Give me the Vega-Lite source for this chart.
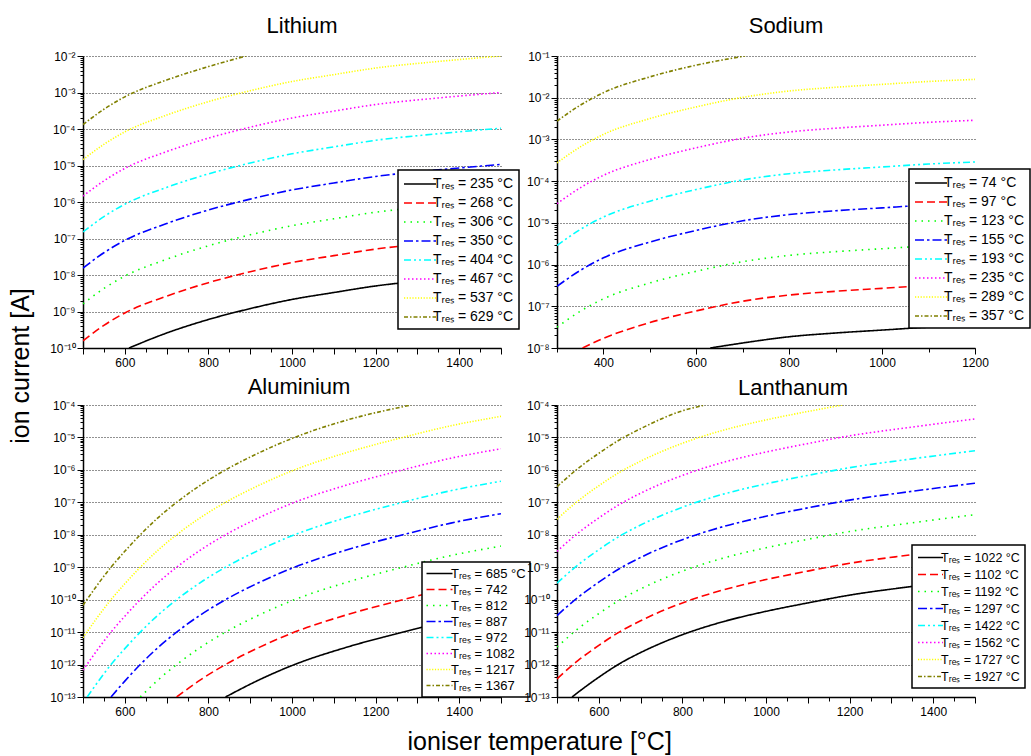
{
  "$schema": "https://vega.github.io/schema/vega-lite/v6.json",
  "background": "white",
  "padding": {"left": 8, "top": 15, "right": 0, "bottom": 0},
  "config": {
    "font": "Liberation Sans",
    "view": {"stroke": null},
    "axis": {
      "domainColor": "black", "domainWidth": 1.5, "tickColor": "black", "tickWidth": 1,
      "labelColor": "black", "labelFont": "Liberation Sans", "labelFontSize": 12,
      "gridColor": "#222222", "gridDash": [1, 2], "gridWidth": 1,
      "labelFlush": false, "labelOverlap": false
    },
    "axisX": {"grid": false, "labelPadding": 3},
    "axisY": {"grid": true, "labelPadding": 2},
    "title": {"font": "Liberation Sans", "fontWeight": "normal", "color": "black"},
    "legend": {
      "strokeColor": "black", "strokeWidth": 1.5, "fillColor": "white", "cornerRadius": 0,
      "labelFont": "Liberation Sans", "labelColor": "black", "labelLimit": 250,
      "symbolType": "M-2,0H2", "symbolStrokeWidth": 1.6
    }
  },
  "title": {"text": "ioniser temperature [°C]", "orient": "bottom", "anchor": "middle", "fontSize": 25, "offset": 13, "dx": 20},
  "vconcat": [
    {
      "title": {"text": "ion current [A]", "orient": "left", "anchor": "middle", "fontSize": 25, "offset": 16},
      "columns": 2,
      "spacing": {"row": 57, "column": 56},
      "bounds": "flush",
      "resolve": {
        "scale": {"x": "independent", "y": "independent", "color": "independent", "strokeDash": "independent"},
        "legend": {"color": "independent", "strokeDash": "independent"}
      },
      "concat": [
        {
          "title": {"text": "Lithium", "fontSize": 22, "frame": "group", "offset": 12, "dx": 10},
          "width": 418, "height": 292,
          "data": {"values": [
            {"Tres": "235", "T": 610, "I": 1e-10}, {"Tres": "235", "T": 700, "I": 2.57e-10}, {"Tres": "235", "T": 800, "I": 6.03e-10}, {"Tres": "235", "T": 900, "I": 1.2e-9}, {"Tres": "235", "T": 1000, "I": 2.14e-9}, {"Tres": "235", "T": 1100, "I": 3.31e-9}, {"Tres": "235", "T": 1200, "I": 5.01e-9}, {"Tres": "235", "T": 1350, "I": 7.59e-9}, {"Tres": "235", "T": 1500, "I": 1.07e-8},
            {"Tres": "268", "T": 500, "I": 1.58e-10}, {"Tres": "268", "T": 550, "I": 4.17e-10}, {"Tres": "268", "T": 600, "I": 9.12e-10}, {"Tres": "268", "T": 700, "I": 2.63e-9}, {"Tres": "268", "T": 800, "I": 6.17e-9}, {"Tres": "268", "T": 900, "I": 1.23e-8}, {"Tres": "268", "T": 1000, "I": 2.19e-8}, {"Tres": "268", "T": 1100, "I": 3.39e-8}, {"Tres": "268", "T": 1200, "I": 5.13e-8}, {"Tres": "268", "T": 1350, "I": 7.76e-8}, {"Tres": "268", "T": 1500, "I": 1.1e-7},
            {"Tres": "306", "T": 500, "I": 1.62e-9}, {"Tres": "306", "T": 550, "I": 4.27e-9}, {"Tres": "306", "T": 600, "I": 9.33e-9}, {"Tres": "306", "T": 700, "I": 2.69e-8}, {"Tres": "306", "T": 800, "I": 6.31e-8}, {"Tres": "306", "T": 900, "I": 1.26e-7}, {"Tres": "306", "T": 1000, "I": 2.24e-7}, {"Tres": "306", "T": 1100, "I": 3.47e-7}, {"Tres": "306", "T": 1200, "I": 5.25e-7}, {"Tres": "306", "T": 1350, "I": 7.94e-7}, {"Tres": "306", "T": 1500, "I": 1.12e-6},
            {"Tres": "350", "T": 500, "I": 1.55e-8}, {"Tres": "350", "T": 550, "I": 4.07e-8}, {"Tres": "350", "T": 600, "I": 8.91e-8}, {"Tres": "350", "T": 700, "I": 2.57e-7}, {"Tres": "350", "T": 800, "I": 6.03e-7}, {"Tres": "350", "T": 900, "I": 1.2e-6}, {"Tres": "350", "T": 1000, "I": 2.14e-6}, {"Tres": "350", "T": 1100, "I": 3.31e-6}, {"Tres": "350", "T": 1200, "I": 5.01e-6}, {"Tres": "350", "T": 1350, "I": 7.59e-6}, {"Tres": "350", "T": 1500, "I": 1.07e-5},
            {"Tres": "404", "T": 500, "I": 1.51e-7}, {"Tres": "404", "T": 550, "I": 3.98e-7}, {"Tres": "404", "T": 600, "I": 8.71e-7}, {"Tres": "404", "T": 700, "I": 2.51e-6}, {"Tres": "404", "T": 800, "I": 5.89e-6}, {"Tres": "404", "T": 900, "I": 1.17e-5}, {"Tres": "404", "T": 1000, "I": 2.09e-5}, {"Tres": "404", "T": 1100, "I": 3.24e-5}, {"Tres": "404", "T": 1200, "I": 4.9e-5}, {"Tres": "404", "T": 1350, "I": 7.41e-5}, {"Tres": "404", "T": 1500, "I": 1.05e-4},
            {"Tres": "467", "T": 500, "I": 1.45e-6}, {"Tres": "467", "T": 550, "I": 3.8e-6}, {"Tres": "467", "T": 600, "I": 8.32e-6}, {"Tres": "467", "T": 700, "I": 2.4e-5}, {"Tres": "467", "T": 800, "I": 5.62e-5}, {"Tres": "467", "T": 900, "I": 1.12e-4}, {"Tres": "467", "T": 1000, "I": 2e-4}, {"Tres": "467", "T": 1100, "I": 3.09e-4}, {"Tres": "467", "T": 1200, "I": 4.68e-4}, {"Tres": "467", "T": 1350, "I": 7.08e-4}, {"Tres": "467", "T": 1500, "I": 1e-3},
            {"Tres": "537", "T": 500, "I": 1.45e-5}, {"Tres": "537", "T": 550, "I": 3.8e-5}, {"Tres": "537", "T": 600, "I": 8.32e-5}, {"Tres": "537", "T": 700, "I": 2.4e-4}, {"Tres": "537", "T": 800, "I": 5.62e-4}, {"Tres": "537", "T": 900, "I": 1.12e-3}, {"Tres": "537", "T": 1000, "I": 2e-3}, {"Tres": "537", "T": 1100, "I": 3.09e-3}, {"Tres": "537", "T": 1200, "I": 4.68e-3}, {"Tres": "537", "T": 1350, "I": 7.08e-3}, {"Tres": "537", "T": 1500, "I": 1e-2},
            {"Tres": "629", "T": 500, "I": 1.32e-4}, {"Tres": "629", "T": 550, "I": 3.47e-4}, {"Tres": "629", "T": 600, "I": 7.59e-4}, {"Tres": "629", "T": 700, "I": 2.19e-3}, {"Tres": "629", "T": 800, "I": 5.13e-3}, {"Tres": "629", "T": 890, "I": 1e-2}
          ]},
          "mark": {"type": "line", "clip": true, "strokeWidth": 1.6, "interpolate": "monotone"},
          "encoding": {
            "x": {"field": "T", "type": "quantitative", "scale": {"domain": [500, 1500], "nice": false, "zero": false},
              "axis": {"title": null, "values": [500, 550, 600, 650, 700, 750, 800, 850, 900, 950, 1000, 1050, 1100, 1150, 1200, 1250, 1300, 1350, 1400, 1450, 1500],
                "labelExpr": "datum.value % 200 == 0 ? datum.value + '' : ''",
                "tickSize": {"condition": {"test": "datum.value % 100 == 0", "value": 6}, "value": 4}}},
            "y": {"field": "I", "type": "quantitative", "scale": {"type": "log", "domain": [1e-10, 1e-2], "nice": false},
              "axis": {"title": null,
                "values": [1e-10, 2e-10, 3e-10, 4e-10, 5e-10, 6e-10, 7e-10, 8e-10, 9e-10, 1e-9, 2e-9, 3e-9, 4e-9, 5e-9, 6e-9, 7e-9, 8e-9, 9e-9, 1e-8, 2e-8, 3e-8, 4e-8, 5e-8, 6e-8, 7e-8, 8e-8, 9e-8, 1e-7, 2e-7, 3e-7, 4e-7, 5e-7, 6e-7, 7e-7, 8e-7, 9e-7, 1e-6, 2e-6, 3e-6, 4e-6, 5e-6, 6e-6, 7e-6, 8e-6, 9e-6, 1e-5, 2e-5, 3e-5, 4e-5, 5e-5, 6e-5, 7e-5, 8e-5, 9e-5, 1e-4, 2e-4, 3e-4, 4e-4, 5e-4, 6e-4, 7e-4, 8e-4, 9e-4, 1e-3, 2e-3, 3e-3, 4e-3, 5e-3, 6e-3, 7e-3, 8e-3, 9e-3, 1e-2],
                "labelExpr": "abs(log(datum.value)/LN10 - round(log(datum.value)/LN10)) < 0.001 ? '10⁻' + (abs(round(log(datum.value)/LN10)) >= 10 ? '¹' : '') + substring('⁰¹²³⁴⁵⁶⁷⁸⁹', abs(round(log(datum.value)/LN10)) % 10, abs(round(log(datum.value)/LN10)) % 10 + 1) : ''",
                "tickSize": {"condition": {"test": "abs(log(datum.value)/LN10 - round(log(datum.value)/LN10)) < 0.001", "value": 6}, "value": 3},
                "gridOpacity": {"condition": {"test": "abs(log(datum.value)/LN10 - round(log(datum.value)/LN10)) < 0.001", "value": 1}, "value": 0}}},
            "color": {"field": "Tres", "type": "nominal",
              "scale": {"domain": ["235", "268", "306", "350", "404", "467", "537", "629"], "range": ["#000000", "#ff0000", "#00ff00", "#0000ff", "#00ffff", "#ff00ff", "#ffff00", "#808000"]},
              "legend": {"orient": "none", "legendX": 315, "legendY": 114, "title": null, "symbolSize": 256, "symbolOffset": 8, "labelOffset": 4, "labelFontSize": 14, "rowPadding": 3, "padding": 5, "labelExpr": "'Tᵣₑₛ = ' + datum.label + ' °C'"}},
            "strokeDash": {"field": "Tres", "type": "nominal",
              "scale": {"domain": ["235", "268", "306", "350", "404", "467", "537", "629"], "range": [[1, 0], [8, 4], [1.5, 5], [9, 3, 2.5, 3], [7, 3, 2, 3, 2, 3], [1.5, 2.5], [1.2, 1.6], [4, 2, 1.5, 2]]},
              "legend": {"orient": "none", "legendX": 315, "legendY": 114, "title": null, "symbolSize": 256, "symbolOffset": 8, "labelOffset": 4, "labelFontSize": 14, "rowPadding": 3, "padding": 5, "labelExpr": "'Tᵣₑₛ = ' + datum.label + ' °C'"}}
          }
        },
        {
          "title": {"text": "Sodium", "fontSize": 22, "frame": "group", "offset": 12, "dx": 20},
          "width": 418, "height": 292,
          "data": {"values": [
            {"Tres": "74", "T": 630, "I": 1e-8}, {"Tres": "74", "T": 700, "I": 1.32e-8}, {"Tres": "74", "T": 800, "I": 1.86e-8}, {"Tres": "74", "T": 900, "I": 2.29e-8}, {"Tres": "74", "T": 1000, "I": 2.69e-8}, {"Tres": "74", "T": 1100, "I": 3.16e-8}, {"Tres": "74", "T": 1200, "I": 3.55e-8},
            {"Tres": "97", "T": 355, "I": 1e-8}, {"Tres": "97", "T": 400, "I": 1.7e-8}, {"Tres": "97", "T": 500, "I": 4.07e-8}, {"Tres": "97", "T": 600, "I": 7.76e-8}, {"Tres": "97", "T": 700, "I": 1.32e-7}, {"Tres": "97", "T": 800, "I": 1.86e-7}, {"Tres": "97", "T": 900, "I": 2.29e-7}, {"Tres": "97", "T": 1000, "I": 2.69e-7}, {"Tres": "97", "T": 1100, "I": 3.16e-7}, {"Tres": "97", "T": 1200, "I": 3.55e-7},
            {"Tres": "123", "T": 300, "I": 3.16e-8}, {"Tres": "123", "T": 350, "I": 7.59e-8}, {"Tres": "123", "T": 400, "I": 1.51e-7}, {"Tres": "123", "T": 500, "I": 3.63e-7}, {"Tres": "123", "T": 600, "I": 6.92e-7}, {"Tres": "123", "T": 700, "I": 1.17e-6}, {"Tres": "123", "T": 800, "I": 1.66e-6}, {"Tres": "123", "T": 900, "I": 2.04e-6}, {"Tres": "123", "T": 1000, "I": 2.4e-6}, {"Tres": "123", "T": 1100, "I": 2.82e-6}, {"Tres": "123", "T": 1200, "I": 3.16e-6},
            {"Tres": "155", "T": 300, "I": 3.02e-7}, {"Tres": "155", "T": 350, "I": 7.24e-7}, {"Tres": "155", "T": 400, "I": 1.45e-6}, {"Tres": "155", "T": 500, "I": 3.47e-6}, {"Tres": "155", "T": 600, "I": 6.61e-6}, {"Tres": "155", "T": 700, "I": 1.12e-5}, {"Tres": "155", "T": 800, "I": 1.58e-5}, {"Tres": "155", "T": 900, "I": 1.95e-5}, {"Tres": "155", "T": 1000, "I": 2.29e-5}, {"Tres": "155", "T": 1100, "I": 2.69e-5}, {"Tres": "155", "T": 1200, "I": 3.02e-5},
            {"Tres": "193", "T": 300, "I": 2.88e-6}, {"Tres": "193", "T": 350, "I": 6.92e-6}, {"Tres": "193", "T": 400, "I": 1.38e-5}, {"Tres": "193", "T": 500, "I": 3.31e-5}, {"Tres": "193", "T": 600, "I": 6.31e-5}, {"Tres": "193", "T": 700, "I": 1.07e-4}, {"Tres": "193", "T": 800, "I": 1.51e-4}, {"Tres": "193", "T": 900, "I": 1.86e-4}, {"Tres": "193", "T": 1000, "I": 2.19e-4}, {"Tres": "193", "T": 1100, "I": 2.57e-4}, {"Tres": "193", "T": 1200, "I": 2.88e-4},
            {"Tres": "235", "T": 300, "I": 2.88e-5}, {"Tres": "235", "T": 350, "I": 6.92e-5}, {"Tres": "235", "T": 400, "I": 1.38e-4}, {"Tres": "235", "T": 500, "I": 3.31e-4}, {"Tres": "235", "T": 600, "I": 6.31e-4}, {"Tres": "235", "T": 700, "I": 1.07e-3}, {"Tres": "235", "T": 800, "I": 1.51e-3}, {"Tres": "235", "T": 900, "I": 1.86e-3}, {"Tres": "235", "T": 1000, "I": 2.19e-3}, {"Tres": "235", "T": 1100, "I": 2.57e-3}, {"Tres": "235", "T": 1200, "I": 2.88e-3},
            {"Tres": "289", "T": 300, "I": 2.75e-4}, {"Tres": "289", "T": 350, "I": 6.61e-4}, {"Tres": "289", "T": 400, "I": 1.32e-3}, {"Tres": "289", "T": 500, "I": 3.16e-3}, {"Tres": "289", "T": 600, "I": 6.03e-3}, {"Tres": "289", "T": 700, "I": 1.02e-2}, {"Tres": "289", "T": 800, "I": 1.45e-2}, {"Tres": "289", "T": 900, "I": 1.78e-2}, {"Tres": "289", "T": 1000, "I": 2.09e-2}, {"Tres": "289", "T": 1100, "I": 2.45e-2}, {"Tres": "289", "T": 1200, "I": 2.75e-2},
            {"Tres": "357", "T": 300, "I": 2.75e-3}, {"Tres": "357", "T": 350, "I": 6.61e-3}, {"Tres": "357", "T": 400, "I": 1.32e-2}, {"Tres": "357", "T": 500, "I": 3.16e-2}, {"Tres": "357", "T": 600, "I": 6.03e-2}, {"Tres": "357", "T": 705, "I": 1e-1}
          ]},
          "mark": {"type": "line", "clip": true, "strokeWidth": 1.6, "interpolate": "monotone"},
          "encoding": {
            "x": {"field": "T", "type": "quantitative", "scale": {"domain": [300, 1200], "nice": false, "zero": false},
              "axis": {"title": null, "values": [300, 400, 500, 600, 700, 800, 900, 1000, 1100, 1200],
                "labelExpr": "datum.value % 200 == 0 ? datum.value + '' : ''",
                "tickSize": {"condition": {"test": "datum.value % 200 == 0", "value": 6}, "value": 4}}},
            "y": {"field": "I", "type": "quantitative", "scale": {"type": "log", "domain": [1e-8, 1e-1], "nice": false},
              "axis": {"title": null,
                "values": [1e-8, 2e-8, 3e-8, 4e-8, 5e-8, 6e-8, 7e-8, 8e-8, 9e-8, 1e-7, 2e-7, 3e-7, 4e-7, 5e-7, 6e-7, 7e-7, 8e-7, 9e-7, 1e-6, 2e-6, 3e-6, 4e-6, 5e-6, 6e-6, 7e-6, 8e-6, 9e-6, 1e-5, 2e-5, 3e-5, 4e-5, 5e-5, 6e-5, 7e-5, 8e-5, 9e-5, 1e-4, 2e-4, 3e-4, 4e-4, 5e-4, 6e-4, 7e-4, 8e-4, 9e-4, 1e-3, 2e-3, 3e-3, 4e-3, 5e-3, 6e-3, 7e-3, 8e-3, 9e-3, 1e-2, 2e-2, 3e-2, 4e-2, 5e-2, 6e-2, 7e-2, 8e-2, 9e-2, 1e-1],
                "labelExpr": "abs(log(datum.value)/LN10 - round(log(datum.value)/LN10)) < 0.001 ? '10⁻' + (abs(round(log(datum.value)/LN10)) >= 10 ? '¹' : '') + substring('⁰¹²³⁴⁵⁶⁷⁸⁹', abs(round(log(datum.value)/LN10)) % 10, abs(round(log(datum.value)/LN10)) % 10 + 1) : ''",
                "tickSize": {"condition": {"test": "abs(log(datum.value)/LN10 - round(log(datum.value)/LN10)) < 0.001", "value": 6}, "value": 3},
                "gridOpacity": {"condition": {"test": "abs(log(datum.value)/LN10 - round(log(datum.value)/LN10)) < 0.001", "value": 1}, "value": 0}}},
            "color": {"field": "Tres", "type": "nominal",
              "scale": {"domain": ["74", "97", "123", "155", "193", "235", "289", "357"], "range": ["#000000", "#ff0000", "#00ff00", "#0000ff", "#00ffff", "#ff00ff", "#ffff00", "#808000"]},
              "legend": {"orient": "none", "legendX": 352, "legendY": 113, "title": null, "symbolSize": 256, "symbolOffset": 8, "labelOffset": 4, "labelFontSize": 14, "rowPadding": 3, "padding": 5, "labelExpr": "'Tᵣₑₛ = ' + datum.label + ' °C'"}},
            "strokeDash": {"field": "Tres", "type": "nominal",
              "scale": {"domain": ["74", "97", "123", "155", "193", "235", "289", "357"], "range": [[1, 0], [8, 4], [1.5, 5], [9, 3, 2.5, 3], [7, 3, 2, 3, 2, 3], [1.5, 2.5], [1.2, 1.6], [4, 2, 1.5, 2]]},
              "legend": {"orient": "none", "legendX": 352, "legendY": 113, "title": null, "symbolSize": 256, "symbolOffset": 8, "labelOffset": 4, "labelFontSize": 14, "rowPadding": 3, "padding": 5, "labelExpr": "'Tᵣₑₛ = ' + datum.label + ' °C'"}}
          }
        },
        {
          "title": {"text": "Aluminium", "fontSize": 22, "frame": "group", "offset": 0, "dx": 7},
          "width": 418, "height": 292,
          "data": {"values": [
            {"Tres": "685", "T": 841, "I": 1e-13}, {"Tres": "685", "T": 920, "I": 3.31e-13}, {"Tres": "685", "T": 1006, "I": 1e-12}, {"Tres": "685", "T": 1130, "I": 3.39e-12}, {"Tres": "685", "T": 1265, "I": 1e-11}, {"Tres": "685", "T": 1380, "I": 2.29e-11}, {"Tres": "685", "T": 1500, "I": 4.47e-11},
            {"Tres": "742", "T": 724, "I": 1e-13}, {"Tres": "742", "T": 780, "I": 3.31e-13}, {"Tres": "742", "T": 841, "I": 1e-12}, {"Tres": "742", "T": 920, "I": 3.31e-12}, {"Tres": "742", "T": 1006, "I": 1e-11}, {"Tres": "742", "T": 1130, "I": 3.39e-11}, {"Tres": "742", "T": 1265, "I": 1e-10}, {"Tres": "742", "T": 1380, "I": 2.29e-10}, {"Tres": "742", "T": 1500, "I": 4.47e-10},
            {"Tres": "812", "T": 637, "I": 1e-13}, {"Tres": "812", "T": 680, "I": 3.39e-13}, {"Tres": "812", "T": 724, "I": 1e-12}, {"Tres": "812", "T": 780, "I": 3.31e-12}, {"Tres": "812", "T": 841, "I": 1e-11}, {"Tres": "812", "T": 920, "I": 3.31e-11}, {"Tres": "812", "T": 1006, "I": 1e-10}, {"Tres": "812", "T": 1130, "I": 3.39e-10}, {"Tres": "812", "T": 1265, "I": 1e-9}, {"Tres": "812", "T": 1380, "I": 2.29e-9}, {"Tres": "812", "T": 1500, "I": 4.47e-9},
            {"Tres": "887", "T": 567, "I": 1e-13}, {"Tres": "887", "T": 600, "I": 3.09e-13}, {"Tres": "887", "T": 637, "I": 1e-12}, {"Tres": "887", "T": 680, "I": 3.39e-12}, {"Tres": "887", "T": 724, "I": 1e-11}, {"Tres": "887", "T": 780, "I": 3.31e-11}, {"Tres": "887", "T": 841, "I": 1e-10}, {"Tres": "887", "T": 920, "I": 3.31e-10}, {"Tres": "887", "T": 1006, "I": 1e-9}, {"Tres": "887", "T": 1130, "I": 3.39e-9}, {"Tres": "887", "T": 1265, "I": 1e-8}, {"Tres": "887", "T": 1380, "I": 2.29e-8}, {"Tres": "887", "T": 1500, "I": 4.47e-8},
            {"Tres": "972", "T": 510, "I": 1e-13}, {"Tres": "972", "T": 567, "I": 1e-12}, {"Tres": "972", "T": 600, "I": 3.09e-12}, {"Tres": "972", "T": 637, "I": 1e-11}, {"Tres": "972", "T": 680, "I": 3.39e-11}, {"Tres": "972", "T": 724, "I": 1e-10}, {"Tres": "972", "T": 780, "I": 3.31e-10}, {"Tres": "972", "T": 841, "I": 1e-9}, {"Tres": "972", "T": 920, "I": 3.31e-9}, {"Tres": "972", "T": 1006, "I": 1e-8}, {"Tres": "972", "T": 1130, "I": 3.39e-8}, {"Tres": "972", "T": 1265, "I": 1e-7}, {"Tres": "972", "T": 1380, "I": 2.29e-7}, {"Tres": "972", "T": 1500, "I": 4.47e-7},
            {"Tres": "1082", "T": 500, "I": 6.76e-13}, {"Tres": "1082", "T": 567, "I": 1e-11}, {"Tres": "1082", "T": 600, "I": 3.09e-11}, {"Tres": "1082", "T": 637, "I": 1e-10}, {"Tres": "1082", "T": 680, "I": 3.39e-10}, {"Tres": "1082", "T": 724, "I": 1e-9}, {"Tres": "1082", "T": 780, "I": 3.31e-9}, {"Tres": "1082", "T": 841, "I": 1e-8}, {"Tres": "1082", "T": 920, "I": 3.31e-8}, {"Tres": "1082", "T": 1006, "I": 1e-7}, {"Tres": "1082", "T": 1130, "I": 3.39e-7}, {"Tres": "1082", "T": 1265, "I": 1e-6}, {"Tres": "1082", "T": 1380, "I": 2.29e-6}, {"Tres": "1082", "T": 1500, "I": 4.47e-6},
            {"Tres": "1217", "T": 500, "I": 6.76e-12}, {"Tres": "1217", "T": 567, "I": 1e-10}, {"Tres": "1217", "T": 600, "I": 3.09e-10}, {"Tres": "1217", "T": 637, "I": 1e-9}, {"Tres": "1217", "T": 680, "I": 3.39e-9}, {"Tres": "1217", "T": 724, "I": 1e-8}, {"Tres": "1217", "T": 780, "I": 3.31e-8}, {"Tres": "1217", "T": 841, "I": 1e-7}, {"Tres": "1217", "T": 920, "I": 3.31e-7}, {"Tres": "1217", "T": 1006, "I": 1e-6}, {"Tres": "1217", "T": 1130, "I": 3.39e-6}, {"Tres": "1217", "T": 1265, "I": 1e-5}, {"Tres": "1217", "T": 1380, "I": 2.29e-5}, {"Tres": "1217", "T": 1500, "I": 4.47e-5},
            {"Tres": "1367", "T": 500, "I": 6.76e-11}, {"Tres": "1367", "T": 567, "I": 1e-9}, {"Tres": "1367", "T": 600, "I": 3.09e-9}, {"Tres": "1367", "T": 637, "I": 1e-8}, {"Tres": "1367", "T": 680, "I": 3.39e-8}, {"Tres": "1367", "T": 724, "I": 1e-7}, {"Tres": "1367", "T": 780, "I": 3.31e-7}, {"Tres": "1367", "T": 841, "I": 1e-6}, {"Tres": "1367", "T": 920, "I": 3.31e-6}, {"Tres": "1367", "T": 1006, "I": 1e-5}, {"Tres": "1367", "T": 1130, "I": 3.39e-5}, {"Tres": "1367", "T": 1285, "I": 1e-4}
          ]},
          "mark": {"type": "line", "clip": true, "strokeWidth": 1.6, "interpolate": "monotone"},
          "encoding": {
            "x": {"field": "T", "type": "quantitative", "scale": {"domain": [500, 1500], "nice": false, "zero": false},
              "axis": {"title": null, "values": [500, 550, 600, 650, 700, 750, 800, 850, 900, 950, 1000, 1050, 1100, 1150, 1200, 1250, 1300, 1350, 1400, 1450, 1500],
                "labelExpr": "datum.value % 200 == 0 ? datum.value + '' : ''",
                "tickSize": {"condition": {"test": "datum.value % 100 == 0", "value": 6}, "value": 4}}},
            "y": {"field": "I", "type": "quantitative", "scale": {"type": "log", "domain": [1e-13, 1e-4], "nice": false},
              "axis": {"title": null,
                "values": [1e-13, 2e-13, 3e-13, 4e-13, 5e-13, 6e-13, 7e-13, 8e-13, 9e-13, 1e-12, 2e-12, 3e-12, 4e-12, 5e-12, 6e-12, 7e-12, 8e-12, 9e-12, 1e-11, 2e-11, 3e-11, 4e-11, 5e-11, 6e-11, 7e-11, 8e-11, 9e-11, 1e-10, 2e-10, 3e-10, 4e-10, 5e-10, 6e-10, 7e-10, 8e-10, 9e-10, 1e-9, 2e-9, 3e-9, 4e-9, 5e-9, 6e-9, 7e-9, 8e-9, 9e-9, 1e-8, 2e-8, 3e-8, 4e-8, 5e-8, 6e-8, 7e-8, 8e-8, 9e-8, 1e-7, 2e-7, 3e-7, 4e-7, 5e-7, 6e-7, 7e-7, 8e-7, 9e-7, 1e-6, 2e-6, 3e-6, 4e-6, 5e-6, 6e-6, 7e-6, 8e-6, 9e-6, 1e-5, 2e-5, 3e-5, 4e-5, 5e-5, 6e-5, 7e-5, 8e-5, 9e-5, 1e-4],
                "labelExpr": "abs(log(datum.value)/LN10 - round(log(datum.value)/LN10)) < 0.001 ? '10⁻' + (abs(round(log(datum.value)/LN10)) >= 10 ? '¹' : '') + substring('⁰¹²³⁴⁵⁶⁷⁸⁹', abs(round(log(datum.value)/LN10)) % 10, abs(round(log(datum.value)/LN10)) % 10 + 1) : ''",
                "tickSize": {"condition": {"test": "abs(log(datum.value)/LN10 - round(log(datum.value)/LN10)) < 0.001", "value": 6}, "value": 3},
                "gridOpacity": {"condition": {"test": "abs(log(datum.value)/LN10 - round(log(datum.value)/LN10)) < 0.001", "value": 1}, "value": 0}}},
            "color": {"field": "Tres", "type": "nominal",
              "scale": {"domain": ["685", "742", "812", "887", "972", "1082", "1217", "1367"], "range": ["#000000", "#ff0000", "#00ff00", "#0000ff", "#00ffff", "#ff00ff", "#ffff00", "#808000"]},
              "legend": {"orient": "none", "legendX": 339, "legendY": 157, "title": null, "symbolSize": 169, "symbolOffset": 6, "labelOffset": 4, "labelFontSize": 13, "rowPadding": 1, "padding": 4, "labelExpr": "'Tᵣₑₛ = ' + datum.label + (datum.label == '685' ? ' °C' : '')"}},
            "strokeDash": {"field": "Tres", "type": "nominal",
              "scale": {"domain": ["685", "742", "812", "887", "972", "1082", "1217", "1367"], "range": [[1, 0], [8, 4], [1.5, 5], [9, 3, 2.5, 3], [7, 3, 2, 3, 2, 3], [1.5, 2.5], [1.2, 1.6], [4, 2, 1.5, 2]]},
              "legend": {"orient": "none", "legendX": 339, "legendY": 157, "title": null, "symbolSize": 169, "symbolOffset": 6, "labelOffset": 4, "labelFontSize": 13, "rowPadding": 1, "padding": 4, "labelExpr": "'Tᵣₑₛ = ' + datum.label + (datum.label == '685' ? ' °C' : '')"}}
          }
        },
        {
          "title": {"text": "Lanthanum", "fontSize": 22, "frame": "group", "offset": -1, "dx": 27},
          "width": 418, "height": 292,
          "data": {"values": [
            {"Tres": "1022", "T": 536, "I": 1e-13}, {"Tres": "1022", "T": 550, "I": 1.38e-13}, {"Tres": "1022", "T": 600, "I": 4.07e-13}, {"Tres": "1022", "T": 650, "I": 1.07e-12}, {"Tres": "1022", "T": 700, "I": 2.34e-12}, {"Tres": "1022", "T": 800, "I": 8.32e-12}, {"Tres": "1022", "T": 900, "I": 2.14e-11}, {"Tres": "1022", "T": 1000, "I": 4.37e-11}, {"Tres": "1022", "T": 1100, "I": 7.94e-11}, {"Tres": "1022", "T": 1200, "I": 1.38e-10}, {"Tres": "1022", "T": 1350, "I": 2.57e-10}, {"Tres": "1022", "T": 1500, "I": 4.57e-10},
            {"Tres": "1102", "T": 500, "I": 3.63e-13}, {"Tres": "1102", "T": 550, "I": 1.32e-12}, {"Tres": "1102", "T": 600, "I": 3.89e-12}, {"Tres": "1102", "T": 650, "I": 1.02e-11}, {"Tres": "1102", "T": 700, "I": 2.24e-11}, {"Tres": "1102", "T": 800, "I": 7.94e-11}, {"Tres": "1102", "T": 900, "I": 2.04e-10}, {"Tres": "1102", "T": 1000, "I": 4.17e-10}, {"Tres": "1102", "T": 1100, "I": 7.59e-10}, {"Tres": "1102", "T": 1200, "I": 1.32e-9}, {"Tres": "1102", "T": 1350, "I": 2.45e-9}, {"Tres": "1102", "T": 1500, "I": 4.37e-9},
            {"Tres": "1192", "T": 500, "I": 3.47e-12}, {"Tres": "1192", "T": 550, "I": 1.26e-11}, {"Tres": "1192", "T": 600, "I": 3.72e-11}, {"Tres": "1192", "T": 650, "I": 9.77e-11}, {"Tres": "1192", "T": 700, "I": 2.14e-10}, {"Tres": "1192", "T": 800, "I": 7.59e-10}, {"Tres": "1192", "T": 900, "I": 1.95e-9}, {"Tres": "1192", "T": 1000, "I": 3.98e-9}, {"Tres": "1192", "T": 1100, "I": 7.24e-9}, {"Tres": "1192", "T": 1200, "I": 1.26e-8}, {"Tres": "1192", "T": 1350, "I": 2.34e-8}, {"Tres": "1192", "T": 1500, "I": 4.17e-8},
            {"Tres": "1297", "T": 500, "I": 3.24e-11}, {"Tres": "1297", "T": 550, "I": 1.17e-10}, {"Tres": "1297", "T": 600, "I": 3.47e-10}, {"Tres": "1297", "T": 650, "I": 9.12e-10}, {"Tres": "1297", "T": 700, "I": 2e-9}, {"Tres": "1297", "T": 800, "I": 7.08e-9}, {"Tres": "1297", "T": 900, "I": 1.82e-8}, {"Tres": "1297", "T": 1000, "I": 3.72e-8}, {"Tres": "1297", "T": 1100, "I": 6.76e-8}, {"Tres": "1297", "T": 1200, "I": 1.17e-7}, {"Tres": "1297", "T": 1350, "I": 2.19e-7}, {"Tres": "1297", "T": 1500, "I": 3.89e-7},
            {"Tres": "1422", "T": 500, "I": 3.24e-10}, {"Tres": "1422", "T": 550, "I": 1.17e-9}, {"Tres": "1422", "T": 600, "I": 3.47e-9}, {"Tres": "1422", "T": 650, "I": 9.12e-9}, {"Tres": "1422", "T": 700, "I": 2e-8}, {"Tres": "1422", "T": 800, "I": 7.08e-8}, {"Tres": "1422", "T": 900, "I": 1.82e-7}, {"Tres": "1422", "T": 1000, "I": 3.72e-7}, {"Tres": "1422", "T": 1100, "I": 6.76e-7}, {"Tres": "1422", "T": 1200, "I": 1.17e-6}, {"Tres": "1422", "T": 1350, "I": 2.19e-6}, {"Tres": "1422", "T": 1500, "I": 3.89e-6},
            {"Tres": "1562", "T": 500, "I": 3.09e-9}, {"Tres": "1562", "T": 550, "I": 1.12e-8}, {"Tres": "1562", "T": 600, "I": 3.31e-8}, {"Tres": "1562", "T": 650, "I": 8.71e-8}, {"Tres": "1562", "T": 700, "I": 1.91e-7}, {"Tres": "1562", "T": 800, "I": 6.76e-7}, {"Tres": "1562", "T": 900, "I": 1.74e-6}, {"Tres": "1562", "T": 1000, "I": 3.55e-6}, {"Tres": "1562", "T": 1100, "I": 6.46e-6}, {"Tres": "1562", "T": 1200, "I": 1.12e-5}, {"Tres": "1562", "T": 1350, "I": 2.09e-5}, {"Tres": "1562", "T": 1500, "I": 3.72e-5},
            {"Tres": "1727", "T": 500, "I": 3.02e-8}, {"Tres": "1727", "T": 550, "I": 1.1e-7}, {"Tres": "1727", "T": 600, "I": 3.24e-7}, {"Tres": "1727", "T": 650, "I": 8.51e-7}, {"Tres": "1727", "T": 700, "I": 1.86e-6}, {"Tres": "1727", "T": 800, "I": 6.61e-6}, {"Tres": "1727", "T": 900, "I": 1.7e-5}, {"Tres": "1727", "T": 1000, "I": 3.47e-5}, {"Tres": "1727", "T": 1100, "I": 6.31e-5}, {"Tres": "1727", "T": 1183, "I": 1e-4},
            {"Tres": "1927", "T": 500, "I": 3.02e-7}, {"Tres": "1927", "T": 550, "I": 1.1e-6}, {"Tres": "1927", "T": 600, "I": 3.24e-6}, {"Tres": "1927", "T": 650, "I": 8.51e-6}, {"Tres": "1927", "T": 700, "I": 1.86e-5}, {"Tres": "1927", "T": 800, "I": 6.61e-5}, {"Tres": "1927", "T": 855, "I": 1e-4}
          ]},
          "mark": {"type": "line", "clip": true, "strokeWidth": 1.6, "interpolate": "monotone"},
          "encoding": {
            "x": {"field": "T", "type": "quantitative", "scale": {"domain": [500, 1500], "nice": false, "zero": false},
              "axis": {"title": null, "values": [500, 550, 600, 650, 700, 750, 800, 850, 900, 950, 1000, 1050, 1100, 1150, 1200, 1250, 1300, 1350, 1400, 1450, 1500],
                "labelExpr": "datum.value % 200 == 0 ? datum.value + '' : ''",
                "tickSize": {"condition": {"test": "datum.value % 100 == 0", "value": 6}, "value": 4}}},
            "y": {"field": "I", "type": "quantitative", "scale": {"type": "log", "domain": [1e-13, 1e-4], "nice": false},
              "axis": {"title": null,
                "values": [1e-13, 2e-13, 3e-13, 4e-13, 5e-13, 6e-13, 7e-13, 8e-13, 9e-13, 1e-12, 2e-12, 3e-12, 4e-12, 5e-12, 6e-12, 7e-12, 8e-12, 9e-12, 1e-11, 2e-11, 3e-11, 4e-11, 5e-11, 6e-11, 7e-11, 8e-11, 9e-11, 1e-10, 2e-10, 3e-10, 4e-10, 5e-10, 6e-10, 7e-10, 8e-10, 9e-10, 1e-9, 2e-9, 3e-9, 4e-9, 5e-9, 6e-9, 7e-9, 8e-9, 9e-9, 1e-8, 2e-8, 3e-8, 4e-8, 5e-8, 6e-8, 7e-8, 8e-8, 9e-8, 1e-7, 2e-7, 3e-7, 4e-7, 5e-7, 6e-7, 7e-7, 8e-7, 9e-7, 1e-6, 2e-6, 3e-6, 4e-6, 5e-6, 6e-6, 7e-6, 8e-6, 9e-6, 1e-5, 2e-5, 3e-5, 4e-5, 5e-5, 6e-5, 7e-5, 8e-5, 9e-5, 1e-4],
                "labelExpr": "abs(log(datum.value)/LN10 - round(log(datum.value)/LN10)) < 0.001 ? '10⁻' + (abs(round(log(datum.value)/LN10)) >= 10 ? '¹' : '') + substring('⁰¹²³⁴⁵⁶⁷⁸⁹', abs(round(log(datum.value)/LN10)) % 10, abs(round(log(datum.value)/LN10)) % 10 + 1) : ''",
                "tickSize": {"condition": {"test": "abs(log(datum.value)/LN10 - round(log(datum.value)/LN10)) < 0.001", "value": 6}, "value": 3},
                "gridOpacity": {"condition": {"test": "abs(log(datum.value)/LN10 - round(log(datum.value)/LN10)) < 0.001", "value": 1}, "value": 0}}},
            "color": {"field": "Tres", "type": "nominal",
              "scale": {"domain": ["1022", "1102", "1192", "1297", "1422", "1562", "1727", "1927"], "range": ["#000000", "#ff0000", "#00ff00", "#0000ff", "#00ffff", "#ff00ff", "#ffff00", "#808000"]},
              "legend": {"orient": "none", "legendX": 355, "legendY": 140, "title": null, "symbolSize": 156, "symbolOffset": 6, "labelOffset": 3, "labelFontSize": 12.5, "rowPadding": 3, "padding": 5, "labelExpr": "'Tᵣₑₛ = ' + datum.label + ' °C'"}},
            "strokeDash": {"field": "Tres", "type": "nominal",
              "scale": {"domain": ["1022", "1102", "1192", "1297", "1422", "1562", "1727", "1927"], "range": [[1, 0], [8, 4], [1.5, 5], [9, 3, 2.5, 3], [7, 3, 2, 3, 2, 3], [1.5, 2.5], [1.2, 1.6], [4, 2, 1.5, 2]]},
              "legend": {"orient": "none", "legendX": 355, "legendY": 140, "title": null, "symbolSize": 156, "symbolOffset": 6, "labelOffset": 3, "labelFontSize": 12.5, "rowPadding": 3, "padding": 5, "labelExpr": "'Tᵣₑₛ = ' + datum.label + ' °C'"}}
          }
        }
      ]
    }
  ]
}
